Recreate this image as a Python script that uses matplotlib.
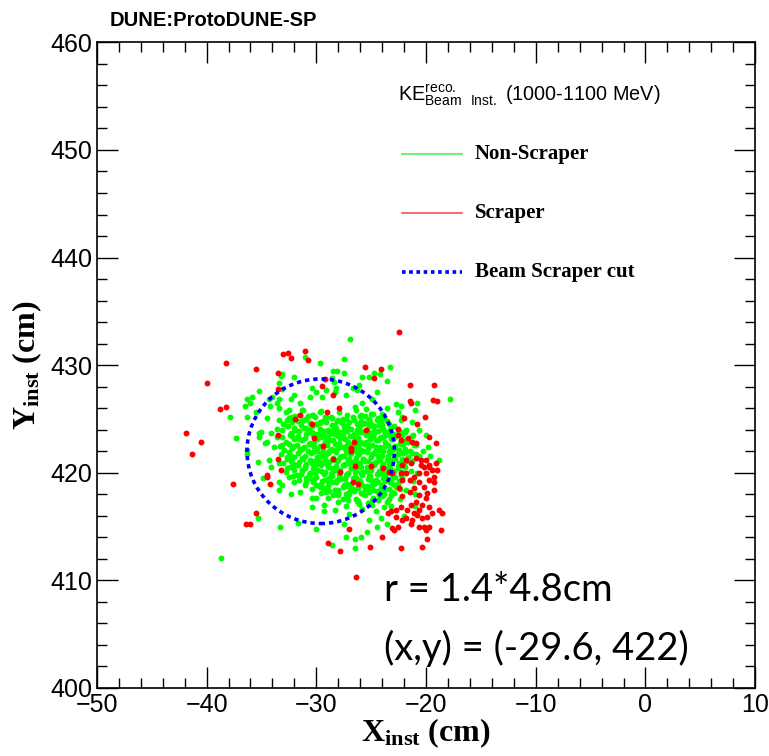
import matplotlib
matplotlib.use("Agg")
import matplotlib.pyplot as plt
from matplotlib.patches import Circle
from matplotlib.ticker import MultipleLocator

# beam cut circle
cut_x0 = -29.6
cut_y0 = 422.0
cut_r = 1.4 * 4.8

# dense non-scraper core, one line per row
core_x = [
    [-32.8, -31.9, -31.2, -30.3, -29.6, -28.7, -27.9, -27.2, -26.4, -25.6, -24.8],
    [-33.4, -32.5, -31.7, -30.9, -30.1, -29.4, -28.6, -28.0, -27.3, -26.7, -25.9, -25.2, -24.5, -23.8],
    [-33.0, -32.2, -31.4, -30.6, -29.9, -29.1, -28.4, -27.7, -27.0, -26.3, -25.6, -24.9, -24.1, -23.4],
    [-33.6, -32.7, -31.9, -31.1, -30.4, -29.7, -28.9, -28.2, -27.5, -26.8, -26.1, -25.4, -24.7, -24.0, -23.2, -22.6],
    [-32.3, -31.6, -30.8, -30.0, -29.3, -28.6, -27.9, -27.2, -26.5, -25.8, -25.1, -24.4, -23.7, -23.0, -22.3],
    [-33.1, -32.4, -31.7, -31.0, -30.3, -29.6, -28.9, -28.3, -27.6, -26.9, -26.2, -25.5, -24.8, -24.1, -23.4, -22.7],
    [-32.8, -32.0, -31.3, -30.6, -29.9, -29.2, -28.5, -27.8, -27.1, -26.5, -25.8, -25.1, -24.4, -23.7, -23.0, -22.4, -21.8],
    [-33.3, -32.5, -31.8, -31.1, -30.4, -29.7, -29.0, -28.3, -27.6, -26.9, -26.2, -25.6, -24.9, -24.2, -23.5, -22.8, -22.1],
    [-32.9, -32.2, -31.5, -30.8, -30.1, -29.4, -28.7, -28.0, -27.3, -26.6, -25.9, -25.3, -24.6, -23.9, -23.2, -22.5, -21.9],
    [-33.2, -32.5, -31.7, -31.0, -30.3, -29.6, -28.9, -28.2, -27.5, -26.8, -26.1, -25.4, -24.7, -24.0, -23.3, -22.6, -21.9, -21.3],
    [-32.7, -32.0, -31.3, -30.6, -29.9, -29.2, -28.5, -27.8, -27.1, -26.4, -25.7, -25.0, -24.3, -23.6, -22.9, -22.2, -21.6],
    [-33.0, -32.3, -31.6, -30.9, -30.2, -29.5, -28.8, -28.1, -27.4, -26.7, -26.0, -25.3, -24.6, -23.9, -23.2, -22.5, -21.8],
    [-32.4, -31.7, -31.0, -30.3, -29.6, -28.9, -28.2, -27.5, -26.8, -26.1, -25.4, -24.7, -24.0, -23.3, -22.6, -21.9],
    [-32.8, -32.0, -31.3, -30.6, -29.9, -29.2, -28.5, -27.8, -27.1, -26.4, -25.7, -25.0, -24.3, -23.6, -22.9, -22.2],
    [-32.1, -31.4, -30.7, -30.0, -29.3, -28.6, -27.9, -27.2, -26.5, -25.8, -25.1, -24.4, -23.7, -23.0, -22.3],
    [-31.6, -30.9, -30.2, -29.5, -28.8, -28.1, -27.4, -26.7, -26.0, -25.3, -24.6, -23.9, -23.2, -22.5],
    [-31.0, -30.3, -29.6, -28.9, -28.2, -27.5, -26.8, -26.1, -25.4, -24.7, -24.0, -23.3, -22.6],
    [-30.4, -29.7, -29.0, -28.3, -27.6, -26.9, -26.2, -25.5, -24.8, -24.1, -23.4, -22.7],
    [-29.6, -28.8, -28.0, -27.3, -26.6, -25.9, -25.2, -24.5, -23.8, -23.1],
    [-28.9, -28.0, -27.2, -26.4, -25.6, -24.8, -24.0, -23.2],
    [-28.0, -27.1, -26.2, -25.3, -24.4, -23.6],
    [-27.3, -26.1, -24.9, -23.8],
]
core_y = [
    [425.6, 425.3, 425.8, 425.4, 425.7, 425.2, 425.6, 425.4, 425.8, 425.3, 425.5],
    [424.9, 425.1, 424.8, 425.0, 425.2, 424.8, 425.1, 424.9, 425.0, 425.2, 424.8, 425.0, 424.9, 425.1],
    [424.5, 424.7, 424.4, 424.6, 424.5, 424.7, 424.4, 424.6, 424.7, 424.5, 424.6, 424.4, 424.7, 424.5],
    [424.1, 424.3, 424.0, 424.2, 424.3, 424.1, 424.0, 424.2, 424.3, 424.1, 424.2, 424.0, 424.3, 424.1, 424.2, 424.0],
    [423.7, 423.9, 423.8, 423.6, 423.9, 423.7, 423.8, 423.9, 423.6, 423.8, 423.7, 423.9, 423.8, 423.6, 423.8],
    [423.3, 423.5, 423.4, 423.2, 423.5, 423.3, 423.4, 423.6, 423.3, 423.4, 423.2, 423.5, 423.4, 423.3, 423.5, 423.4],
    [422.9, 423.1, 423.0, 422.8, 423.1, 422.9, 423.0, 423.2, 422.9, 423.0, 422.8, 423.1, 423.0, 422.9, 423.1, 422.8, 423.0],
    [422.5, 422.7, 422.6, 422.4, 422.7, 422.5, 422.6, 422.7, 422.4, 422.6, 422.5, 422.7, 422.6, 422.4, 422.6, 422.5, 422.7],
    [422.1, 422.3, 422.2, 422.0, 422.3, 422.1, 422.2, 422.3, 422.0, 422.2, 422.1, 422.3, 422.2, 422.0, 422.3, 422.1, 422.2],
    [421.7, 421.9, 421.8, 421.6, 421.9, 421.7, 421.8, 421.9, 421.6, 421.8, 421.7, 421.9, 421.8, 421.6, 421.8, 421.7, 421.9, 421.8],
    [421.3, 421.5, 421.4, 421.2, 421.5, 421.3, 421.4, 421.5, 421.2, 421.4, 421.3, 421.5, 421.4, 421.2, 421.4, 421.3, 421.5],
    [420.9, 421.1, 421.0, 420.8, 421.1, 420.9, 421.0, 421.1, 420.8, 421.0, 420.9, 421.1, 421.0, 420.8, 421.0, 420.9, 421.1],
    [420.5, 420.7, 420.6, 420.4, 420.7, 420.5, 420.6, 420.7, 420.4, 420.6, 420.5, 420.7, 420.6, 420.4, 420.6, 420.5],
    [420.1, 420.3, 420.2, 420.0, 420.3, 420.1, 420.2, 420.3, 420.0, 420.2, 420.1, 420.3, 420.2, 420.0, 420.2, 420.1],
    [419.7, 419.9, 419.8, 419.6, 419.9, 419.7, 419.8, 419.9, 419.6, 419.8, 419.7, 419.9, 419.8, 419.6, 419.8],
    [419.3, 419.5, 419.4, 419.2, 419.5, 419.3, 419.4, 419.5, 419.2, 419.4, 419.3, 419.5, 419.4, 419.2],
    [418.9, 419.1, 419.0, 418.8, 419.1, 418.9, 419.0, 419.1, 418.8, 419.0, 418.9, 419.1, 419.0],
    [418.5, 418.7, 418.6, 418.4, 418.7, 418.5, 418.6, 418.7, 418.4, 418.6, 418.5, 418.7],
    [418.1, 418.3, 418.2, 418.0, 418.3, 418.1, 418.2, 418.3, 418.0, 418.2],
    [417.7, 417.9, 417.8, 417.6, 417.9, 417.7, 417.8, 417.9],
    [417.3, 417.5, 417.4, 417.2, 417.5, 417.3],
    [416.9, 417.1, 417.0, 416.8],
]

# second layer of core points, between the rows above
core2_x = [
    [-32.0, -30.8, -29.2, -27.6, -26.0, -24.4],
    [-31.2, -29.7, -28.1, -26.6, -25.1, -23.6, -22.3],
    [-32.6, -30.0, -28.6, -27.2, -25.8, -24.3, -22.9],
    [-31.9, -30.4, -28.9, -27.5, -26.1, -24.7, -23.3, -21.9],
    [-32.2, -30.9, -29.4, -28.0, -26.6, -25.2, -23.8, -22.4, -21.2],
    [-31.6, -30.2, -28.8, -27.4, -26.0, -24.6, -23.2, -21.6],
    [-32.0, -30.7, -29.3, -27.9, -26.5, -25.1, -23.7, -22.3, -21.1],
    [-31.3, -29.9, -28.5, -27.1, -25.7, -24.3, -22.9, -21.5],
    [-32.3, -30.5, -29.1, -27.7, -26.3, -24.9, -23.5, -22.1, -20.9],
    [-31.2, -29.8, -28.4, -27.0, -25.6, -24.2, -22.8, -21.3],
    [-31.9, -30.4, -29.0, -27.6, -26.2, -24.8, -23.4, -22.0],
    [-31.0, -29.6, -28.2, -26.8, -25.4, -24.0, -22.6, -21.4],
    [-31.5, -30.1, -28.7, -27.3, -25.9, -24.5, -23.1],
    [-30.6, -29.2, -27.8, -26.4, -25.0, -23.6, -22.2],
    [-30.0, -28.6, -27.2, -25.8, -24.4, -23.0],
    [-29.4, -28.0, -26.6, -25.2, -23.8, -22.4],
    [-28.5, -27.1, -25.7, -24.3, -22.9],
    [-27.6, -26.3, -24.9, -23.4],
]
core2_y = [
    [425.1, 425.3, 425.2, 425.0, 425.3, 425.1],
    [424.9, 424.7, 424.8, 424.9, 424.7, 424.8, 424.9],
    [424.3, 424.5, 424.4, 424.3, 424.5, 424.4, 424.3],
    [424.0, 423.8, 423.9, 424.0, 423.8, 423.9, 424.0, 423.8],
    [423.4, 423.6, 423.5, 423.4, 423.6, 423.5, 423.4, 423.6, 423.5],
    [423.1, 422.9, 423.0, 423.1, 422.9, 423.0, 423.1, 422.9],
    [422.5, 422.7, 422.6, 422.5, 422.7, 422.6, 422.5, 422.7, 422.6],
    [422.2, 422.0, 422.1, 422.2, 422.0, 422.1, 422.2, 422.0],
    [421.6, 421.8, 421.7, 421.6, 421.8, 421.7, 421.6, 421.8, 421.7],
    [421.3, 421.1, 421.2, 421.3, 421.1, 421.2, 421.3, 421.1],
    [420.7, 420.9, 420.8, 420.7, 420.9, 420.8, 420.7, 420.9],
    [420.4, 420.2, 420.3, 420.4, 420.2, 420.3, 420.4, 420.2],
    [419.8, 420.0, 419.9, 419.8, 420.0, 419.9, 419.8],
    [419.5, 419.3, 419.4, 419.5, 419.3, 419.4, 419.5],
    [418.9, 419.1, 419.0, 418.9, 419.1, 419.0],
    [418.6, 418.4, 418.5, 418.6, 418.4, 418.5],
    [417.9, 418.1, 418.0, 417.9, 418.1],
    [417.6, 417.4, 417.5, 417.6],
]

# extra points filling the middle of the core
fill_x = [-30.7, -29.8, -28.4, -27.6, -26.3, -25.0, -23.9,
          -29.1, -27.9, -26.6, -25.5, -24.2,
          -30.2, -28.8, -27.3, -26.0, -24.6, -23.4,
          -29.5, -28.0, -26.9, -25.7, -24.4, -23.1,
          -30.0, -28.6, -27.1, -25.9, -24.8, -23.5,
          -29.3, -27.8, -26.5, -25.2, -24.0, -22.8,
          -28.9, -27.4, -26.2, -24.9, -23.7,
          -28.3, -27.0, -25.6, -24.3]
fill_y = [424.0, 423.6, 424.1, 423.5, 424.0, 423.6, 424.1,
          423.2, 422.8, 423.3, 422.9, 423.2,
          422.4, 422.0, 422.5, 422.1, 422.4, 422.0,
          421.6, 421.2, 421.7, 421.3, 421.6, 421.2,
          420.8, 420.4, 420.9, 420.5, 420.8, 420.4,
          420.0, 419.6, 420.1, 419.7, 420.0, 419.6,
          419.2, 418.8, 419.3, 418.9, 419.2,
          418.4, 418.0, 418.5, 418.1]

# scattered non-scraper points around the core
green_outer = [
    (-26.9, 432.4), (-27.5, 430.6), (-23.3, 429.8), (-23.6, 428.5), (-25.8, 428.9), (-25.2, 428.9),
    (-24.7, 429.3), (-24.2, 429.2), (-17.8, 426.9), (-20.8, 426.5), (-22.7, 426.4), (-22.3, 426.2),
    (-21.0, 425.8), (-23.6, 426.0), (-24.0, 425.5), (-25.8, 426.5), (-24.9, 426.9), (-24.5, 427.5),
    (-26.3, 427.7), (-26.1, 428.2), (-28.5, 429.5), (-28.1, 429.5), (-27.5, 429.3), (-28.6, 428.8),
    (-28.4, 428.4), (-28.2, 427.9), (-28.3, 427.5), (-27.3, 427.2), (-26.7, 427.9), (-29.7, 430.2),
    (-26.5, 426.1), (-25.5, 425.9), (-25.0, 425.5), (-22.6, 425.6), (-22.2, 425.2), (-21.3, 424.7),
    (-21.8, 424.0), (-20.6, 424.0), (-20.0, 423.5), (-22.2, 423.5), (-25.9, 425.4), (-24.1, 425.1),
    (-24.0, 424.4), (-25.2, 424.3), (-24.7, 423.7), (-23.6, 423.7),
    (-31.0, 430.8), (-33.1, 429.2), (-33.2, 429.0), (-32.0, 428.9), (-35.2, 427.6), (-33.4, 428.3),
    (-33.1, 427.8), (-36.3, 426.9), (-35.9, 427.0), (-36.0, 426.5), (-36.5, 426.2), (-37.9, 425.2),
    (-36.3, 425.2), (-35.5, 425.6), (-34.3, 426.9), (-34.0, 427.0), (-34.2, 426.2), (-33.6, 426.5),
    (-33.4, 426.0), (-33.4, 426.9), (-34.5, 425.1), (-35.0, 423.8), (-34.1, 423.7), (-35.2, 423.3),
    (-32.3, 426.9), (-32.0, 427.2), (-31.5, 426.5), (-30.6, 427.0), (-30.4, 427.9), (-30.0, 427.5),
    (-29.5, 427.0), (-29.1, 427.7), (-32.5, 425.8), (-32.2, 425.2), (-32.7, 424.9), (-31.3, 425.8),
    (-31.1, 424.9), (-30.4, 425.4), (-29.7, 425.6), (-29.1, 425.2), (-30.9, 424.2), (-29.7, 424.6),
    (-32.0, 424.2), (-33.1, 424.0),
    (-37.3, 423.2), (-38.7, 412.1), (-35.3, 415.8), (-33.3, 415.0), (-31.7, 415.3), (-30.0, 414.8),
    (-34.9, 419.5), (-36.3, 422.1), (-36.3, 421.7), (-35.3, 421.0), (-34.3, 421.2), (-33.4, 419.1),
    (-33.4, 418.4), (-33.1, 418.9), (-32.3, 418.0), (-31.5, 418.2), (-32.0, 419.1), (-30.4, 417.7),
    (-30.0, 417.7), (-30.4, 416.8), (-29.3, 417.0), (-29.3, 416.4), (-35.2, 423.7), (-34.7, 422.8),
    (-34.5, 422.9), (-33.6, 423.3), (-33.9, 422.4), (-33.1, 422.6), (-33.4, 420.9), (-34.1, 420.5),
    (-32.7, 420.4), (-32.2, 421.0), (-32.5, 419.6), (-31.8, 419.8), (-31.3, 420.3), (-30.6, 420.0),
    (-30.9, 419.1), (-29.7, 418.9), (-29.1, 418.2), (-32.7, 421.5), (-31.5, 422.1),
    (-18.8, 421.2), (-27.3, 414.0), (-28.6, 413.3), (-26.5, 413.0), (-26.5, 413.8), (-25.9, 414.0),
    (-25.4, 414.5), (-24.5, 415.0), (-23.6, 415.2), (-27.5, 415.2), (-25.2, 415.6), (-24.1, 415.8),
    (-28.3, 416.5), (-27.0, 416.2), (-25.8, 416.6), (-24.6, 416.4), (-23.2, 416.9), (-22.4, 417.6),
    (-21.8, 418.4), (-21.2, 419.2), (-20.8, 420.0), (-20.6, 421.6), (-20.9, 422.6), (-21.3, 423.4),
    (-19.8, 422.4), (-20.3, 422.0), (-19.6, 421.6), (-21.0, 418.0), (-22.0, 416.0), (-21.0, 416.9),
]

# scraper points
red_pts = [
    (-38.2, 430.2), (-40.0, 428.3), (-35.5, 429.6), (-33.0, 431.0), (-32.6, 431.1), (-32.3, 430.7),
    (-31.0, 431.3), (-30.8, 430.5), (-33.5, 429.3), (-33.5, 427.8), (-29.2, 428.7), (-29.5, 428.1),
    (-38.8, 425.9), (-38.2, 426.1), (-41.9, 423.7), (-31.9, 425.0), (-31.5, 425.4), (-30.4, 424.5),
    (-33.5, 423.5), (-30.2, 423.2),
    (-22.5, 433.1), (-25.6, 429.8), (-24.1, 429.6), (-24.7, 428.8), (-21.5, 428.2), (-19.3, 428.2),
    (-21.5, 426.7), (-21.4, 426.5), (-19.4, 426.8), (-19.0, 426.7), (-20.1, 425.2), (-22.0, 425.1),
    (-20.8, 424.5), (-22.6, 424.1), (-25.5, 424.0), (-21.6, 423.2), (-19.7, 423.3), (-27.9, 426.0),
    (-28.5, 427.2), (-29.0, 425.6),
    (-40.5, 422.9), (-41.3, 421.7), (-37.6, 419.0), (-34.5, 419.8), (-34.5, 419.6), (-34.2, 419.0),
    (-35.5, 416.3), (-36.4, 415.2), (-36.0, 415.2), (-33.5, 421.3), (-33.2, 420.3), (-29.4, 422.5),
    (-28.9, 413.5),
    (-28.5, 421.3), (-27.8, 420.1), (-26.7, 419.1), (-26.8, 422.3), (-26.8, 422.0), (-26.6, 422.9),
    (-26.5, 420.6), (-26.2, 419.0), (-25.0, 420.6), (-23.9, 420.4), (-23.4, 420.1), (-23.1, 420.0),
    (-22.6, 423.5), (-22.3, 423.0), (-21.3, 422.9), (-19.1, 422.8), (-20.9, 422.8),
    (-21.8, 421.2), (-21.4, 420.9), (-22.2, 420.7), (-20.9, 421.4), (-20.5, 421.2), (-20.0, 421.2),
    (-20.5, 420.7), (-20.2, 420.5), (-19.7, 420.7), (-19.5, 420.3), (-20.0, 420.0), (-20.6, 420.0),
    (-21.1, 419.6), (-21.5, 419.3), (-21.8, 420.0), (-22.3, 420.0), (-22.2, 419.3),
    (-19.7, 419.3), (-19.3, 419.1), (-20.6, 419.1), (-20.2, 418.7), (-21.1, 418.6), (-21.5, 418.2),
    (-19.3, 418.4), (-19.9, 418.1), (-20.6, 417.9), (-22.2, 417.8), (-22.5, 418.6),
    (-20.0, 417.7), (-20.9, 417.3), (-21.4, 417.0), (-20.4, 417.0), (-19.7, 416.8), (-20.6, 416.5),
    (-21.1, 416.3), (-21.7, 416.5), (-22.3, 416.8), (-22.7, 416.5), (-23.2, 416.4), (-21.8, 415.8),
    (-21.3, 415.6), (-20.8, 416.1), (-20.4, 415.8), (-20.2, 415.0), (-19.7, 415.0), (-20.0, 414.7),
    (-20.6, 415.0), (-21.4, 415.2), (-22.2, 415.6), (-22.7, 415.9), (-23.5, 416.3), (-23.1, 414.9),
    (-22.9, 414.7), (-22.6, 415.0), (-24.0, 414.0), (-22.3, 413.0), (-20.4, 413.1), (-18.6, 414.7),
    (-18.5, 416.3), (-18.8, 416.5), (-19.5, 416.3), (-19.9, 415.9),
    (-19.9, 413.8), (-27.0, 414.8), (-27.8, 412.7), (-25.1, 413.1), (-26.4, 410.3), (-19.1, 420.9),
    (-19.0, 420.3), (-19.3, 419.6), (-19.7, 420.5),
]

gx = ([v for row in core_x for v in row] + [v for row in core2_x for v in row]
      + fill_x + [p[0] for p in green_outer])
gy = ([v for row in core_y for v in row] + [v for row in core2_y for v in row]
      + fill_y + [p[1] for p in green_outer])
rx = [p[0] for p in red_pts]
ry = [p[1] for p in red_pts]

plt.rcParams['font.family'] = ['Liberation Sans', 'DejaVu Sans']
plt.rcParams['mathtext.fontset'] = 'custom'
plt.rcParams['mathtext.rm'] = 'Liberation Sans'
plt.rcParams['mathtext.bf'] = 'Liberation Serif:bold'

fig = plt.figure(figsize=(7.69, 7.56), dpi=100)
ax = fig.add_axes([0.126, 0.090, 0.856, 0.854])

ax.scatter(gx, gy, s=18, c='#00ff00', linewidths=0, zorder=2)
ax.scatter(rx, ry, s=18, c='#ff0000', linewidths=0, zorder=3)
ax.add_patch(Circle((cut_x0, cut_y0), cut_r, fill=False, edgecolor='#0000ff',
                    linewidth=2.6, linestyle=(0, (1.2, 1.1)), zorder=4))

ax.set_xlim(-50, 10)
ax.set_ylim(400, 460)
ax.xaxis.set_major_locator(MultipleLocator(10))
ax.xaxis.set_minor_locator(MultipleLocator(2))
ax.yaxis.set_major_locator(MultipleLocator(10))
ax.yaxis.set_minor_locator(MultipleLocator(2))
ax.tick_params(which='both', direction='in', top=True, right=True, labelsize=18, width=1)
ax.tick_params(which='major', length=15)
ax.tick_params(which='minor', length=7.5)
ax.set_xticks([-50, -40, -30, -20, -10, 0, 10])
ax.set_xticklabels(['\u221250', '\u221240', '\u221230', '\u221220', '\u221210', '0', '10'])
for s in ax.spines.values():
    s.set_linewidth(1.2)

ax.set_xlabel(r'$\mathbf{X_{inst}}$ (cm)', fontsize=23, fontfamily='Liberation Serif',
              fontweight='bold', labelpad=0)
ax.set_ylabel(r'$\mathbf{Y_{inst}}$ (cm)', fontsize=23, fontfamily='Liberation Serif',
              fontweight='bold', labelpad=4)

fig.text(0.143, 0.965, 'DUNE:ProtoDUNE-SP', fontsize=14.5, fontweight='bold')

# legend block
ax.text(0.457, 0.918, r'KE$^{\rm reco.}_{\rm Beam\ \ Inst.}$ (1000-1100 MeV)', transform=ax.transAxes,
        fontsize=14.3, va='center')
leg_rows = [('Non-Scraper', '#55ee55', '-', 1.2, 0.827),
            ('Scraper', '#ee5555', '-', 1.2, 0.735),
            ('Beam Scraper cut', '#0000ff', (0, (1.0, 1.0)), 2.6, 0.644)]
for label, col, ls, lw, yy in leg_rows:
    ax.plot([0.463, 0.555], [yy, yy], transform=ax.transAxes, color=col, linestyle=ls, linewidth=lw)
    ax.text(0.574, yy, label, transform=ax.transAxes, fontsize=15, fontfamily='Liberation Serif',
            fontweight='bold', va='center')

ax.text(0.436, 0.152, 'r = 1.4*4.8cm', transform=ax.transAxes, fontsize=27.5,
        fontfamily='Lato', va='center')
ax.text(0.436, 0.062, '(x,y) = (-29.6, 422)', transform=ax.transAxes, fontsize=27.5,
        fontfamily='Lato', va='center')

fig.savefig('out.png', dpi=100)
